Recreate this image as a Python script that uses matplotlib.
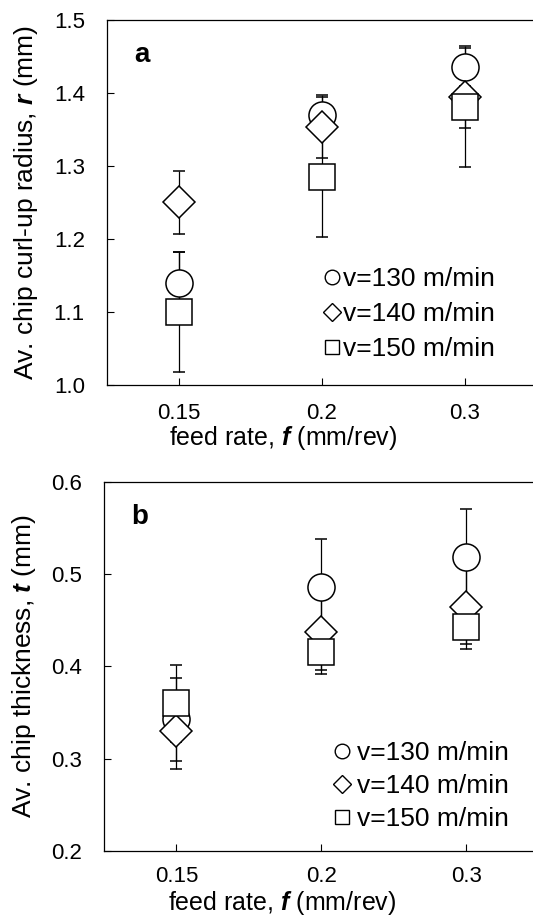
import numpy as np
import matplotlib.pyplot as plt
from matplotlib.lines import Line2D

plt.rcParams['font.family'] = ['Liberation Sans', 'DejaVu Sans']
plt.rcParams['mathtext.fontset'] = 'custom'
plt.rcParams['mathtext.rm'] = 'Liberation Sans'
plt.rcParams['mathtext.it'] = 'Liberation Sans:italic'
plt.rcParams['mathtext.bf'] = 'Liberation Sans:bold'
plt.rcParams['mathtext.bfit'] = 'Liberation Sans:italic:bold'

feed = ['0.15', '0.2', '0.3']
speeds = ['v=130 m/min', 'v=140 m/min', 'v=150 m/min']
markers = ['o', 'D', 's']
msizes = [19.5, 16.5, 18.5]

# (a) chip curl-up radius, mm
r_mean = [[1.14, 1.37, 1.435],
          [1.25, 1.354, 1.395],
          [1.10, 1.285, 1.381]]
r_err = [[0.042, 0.025, 0.026],
         [0.043, 0.043, 0.043],
         [0.082, 0.082, 0.083]]

# (b) chip thickness, mm
t_mean = [[0.343, 0.4865, 0.519],
          [0.330, 0.437, 0.465],
          [0.360, 0.4155, 0.4425]]
t_err = [[0.045, 0.052, 0.052],
         [0.041, 0.041, 0.041],
         [0.042, 0.024, 0.024]]

fig = plt.figure(figsize=(5.33, 9.17), dpi=100)
ax1 = fig.add_axes([0.2008, 0.5802, 0.805, 0.398])
ax2 = fig.add_axes([0.1951, 0.0720, 0.816, 0.4024])

x = np.arange(1, len(feed) + 1)


def panel(ax, means, errs, ylim, yticks, ylabel, tag, ylab_x, leg_x, leg_y, leg_ls, leg_pad, xpad):
    for m, e, mk, ms in zip(means, errs, markers, msizes):
        ax.errorbar(x, m, yerr=e, fmt=mk, ms=ms, mfc='white', mec='black', mew=1.1,
                    ecolor='black', elinewidth=0.9, capsize=4.4, capthick=0.9)
    ax.set_xlim(0.5, 3.5)
    ax.set_ylim(*ylim)
    ax.set_yticks(yticks)
    ax.set_yticklabels(['%.1f' % v for v in yticks])
    ax.set_xticks(x)
    ax.set_xticklabels(feed)
    ax.tick_params(direction='in', length=5, width=0.8, labelsize=16, pad=16)
    ax.tick_params(axis='x', pad=xpad)
    ax.spines['right'].set_visible(False)
    for s in ['left', 'bottom', 'top']:
        ax.spines[s].set_linewidth(0.9)
    ax.set_ylabel(ylabel, fontsize=19)
    ax.yaxis.set_label_coords(ylab_x, 0.5)
    ax.set_xlabel('feed rate, $\\mathbfit{f}$ (mm/rev)', fontsize=18)
    ax.text(0.082, 0.905, tag, transform=ax.transAxes, fontsize=20, fontweight='bold',
            ha='center', va='center')
    handles = [Line2D([], [], ls='none', marker=mk, ms=s, mfc='white', mec='black', mew=1.0)
               for mk, s in zip(markers, [10.5, 9.0, 10.5])]
    ax.legend(handles, speeds, loc='center left', bbox_to_anchor=(leg_x, leg_y), frameon=False,
              fontsize=19, handlelength=0.6, handletextpad=leg_pad, labelspacing=leg_ls,
              borderpad=0, borderaxespad=0)


panel(ax1, r_mean, r_err, (1.0, 1.5), [1.0, 1.1, 1.2, 1.3, 1.4, 1.5],
      'Av. chip curl-up radius, $\\mathbfit{r}$ (mm)', 'a', -0.156,
      0.506, 0.1945, 0.41, 0.12, 13)
panel(ax2, t_mean, t_err, (0.2, 0.6), [0.2, 0.3, 0.4, 0.5, 0.6],
      'Av. chip thickness, $\\mathbfit{t}$ (mm)', 'b', -0.152,
      0.529, 0.176, 0.34, 0.27, 11)

ax1.xaxis.set_label_coords(0.41, -0.106)
ax2.xaxis.set_label_coords(0.41, -0.104)

fig.savefig('out.png', dpi=100)
